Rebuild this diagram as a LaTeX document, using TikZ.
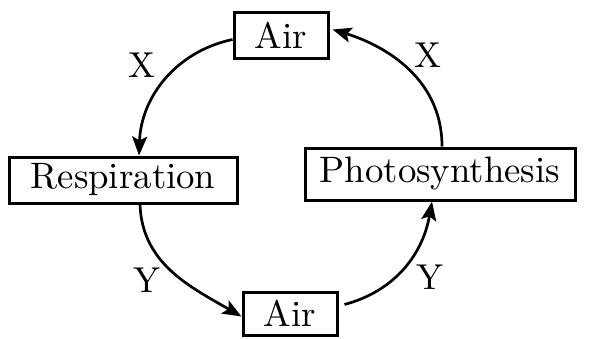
\documentclass[tikz,border=0pt]{standalone}
\usetikzlibrary{arrows.meta}
\newcommand\bigtxt[1]{\scalebox{3.68}{#1}}
\newcommand\lbltxt[1]{\scalebox{3.6}{#1}}
\begin{document}
\begin{tikzpicture}[x=1pt,y=1pt,
  box/.style={draw, line width=3pt, inner sep=0pt, minimum height=46pt},
  lbl/.style={inner sep=0pt},
  conn/.style={line width=2.7pt, -{Stealth[length=19pt,width=15pt,inset=4pt]}}]
\useasboundingbox (0,0) rectangle (589,338);
\node[box, minimum width=94pt] (airTop) at (281,302.5) {\bigtxt{Air}};
\node[box, minimum width=228pt, minimum height=46pt] (resp) at (123,158) {\bigtxt{Respiration}};
\node[box, minimum width=270pt, minimum height=52pt] (photo) at (440,164) {\bigtxt{Photosynthesis}};
\node[box, minimum width=94pt, minimum height=43pt] (airBot) at (290,24.5) {\bigtxt{Air}};
\draw[conn] ([yshift=-4pt]airTop.west) to[out=192,in=88] ([xshift=16pt]resp.north);
\draw[conn] ([xshift=2pt]photo.north) .. controls +(0,72) and +(46,-14) .. ([xshift=3pt,yshift=6pt]airTop.east);
\draw[conn] ([xshift=17pt]resp.south) to[out=-88,in=150] ([yshift=-3pt]airBot.west);
\draw[conn] ([xshift=6pt,yshift=9pt]airBot.east) to[out=15,in=-100] ([xshift=-8pt]photo.south);
\node[lbl] (xl) at (142,273) {\lbltxt{X}};
\node[lbl] (xr) at (428,283) {\lbltxt{X}};
\node[lbl] (yl) at (147,58) {\lbltxt{Y}};
\node[lbl] (yr) at (430,61) {\lbltxt{Y}};
\end{tikzpicture}
\end{document}
